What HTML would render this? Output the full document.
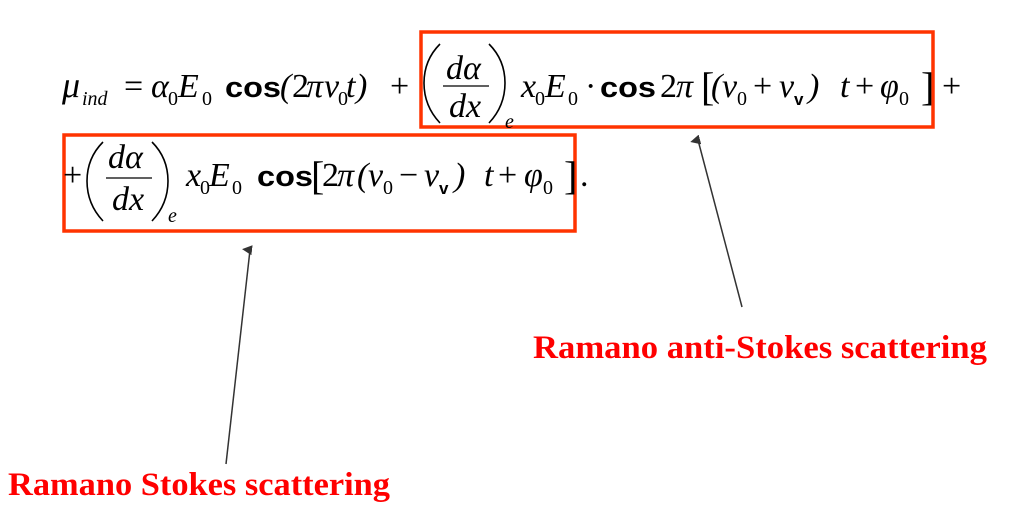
<!DOCTYPE html>
<html><head><meta charset="utf-8"><style>
html,body{margin:0;padding:0;background:#fff;}
svg{display:block;}
.v{font-family:"Liberation Serif",serif;font-style:italic;}
.n{font-family:"Liberation Serif",serif;}
.c{font-family:"Liberation Sans",sans-serif;font-weight:bold;}
.l{font-family:"Liberation Serif",serif;font-weight:bold;fill:#ff0000;}
</style></head><body>
<svg width="1035" height="528" viewBox="0 0 1035 528" xmlns="http://www.w3.org/2000/svg">
<defs><marker id="ah" markerWidth="10" markerHeight="10" refX="5" refY="8" orient="auto-start-reverse" markerUnits="userSpaceOnUse" viewBox="0 0 10 10"><path d="M0,10 L5,0 L10,10 Z" fill="#333"/></marker></defs>
<rect x="421" y="32" width="512" height="95" fill="none" stroke="#ff3300" stroke-width="3.5"/>
<rect x="64" y="135" width="511" height="96" fill="none" stroke="#ff3300" stroke-width="3.5"/>
<g fill="none" stroke="#000" stroke-width="1.6">
<path d="M440,44 Q424,60 424,83 Q424,106 440,123"/>
<path d="M489,44 Q505,60 505,83 Q505,106 489,123"/>
<path d="M103,142 Q87,158 87,181 Q87,204 103,221"/>
<path d="M152,142 Q168,158 168,181 Q168,204 152,221"/>
</g>
<g font-size="34" fill="#000">
<text x="62" y="97" class="v" font-size="36">μ</text>
<text x="82" y="105" class="v" font-size="20">ind</text>
<text x="124" y="97" class="n">=</text>
<text x="151" y="97" class="v">α</text><text x="168" y="105" class="n" font-size="20">0</text>
<text x="178" y="97" class="v">E</text><text x="202" y="105" class="n" font-size="20">0</text>
<text x="225" y="97" class="c" font-size="29" textLength="56" lengthAdjust="spacingAndGlyphs">cos</text>
<text x="280" y="97" class="v">(</text><text x="292" y="97" class="n">2</text><text x="306" y="97" class="v">π</text>
<text x="324" y="97" class="v">ν</text><text x="338" y="105" class="n" font-size="20">0</text>
<text x="346" y="97" class="v">t</text><text x="356" y="97" class="v">)</text>
<text x="390" y="97" class="n">+</text>
<text x="446" y="79" class="v">d</text><text x="463" y="79" class="v">α</text>
<line x1="443" y1="86" x2="489" y2="86" stroke="#000" stroke-width="1.3"/>
<text x="449" y="117" class="v">dx</text>
<text x="505" y="128" class="v" font-size="20">e</text>
<text x="521" y="97" class="v">x</text><text x="535" y="105" class="n" font-size="20">0</text>
<text x="545" y="97" class="v">E</text><text x="568" y="105" class="n" font-size="20">0</text>
<text x="585" y="97" class="n">·</text>
<text x="600" y="97" class="c" font-size="29" textLength="56" lengthAdjust="spacingAndGlyphs">cos</text>
<text x="660" y="97" class="n">2</text><text x="676" y="97" class="v">π</text>
<text x="701" y="100" class="n" font-size="40">[</text>
<text x="711" y="97" class="v">(</text>
<text x="722" y="97" class="v">ν</text><text x="737" y="105" class="n" font-size="20">0</text>
<text x="753" y="97" class="n">+</text>
<text x="779" y="97" class="v">ν</text><text x="794" y="105" class="c" font-size="17">v</text>
<text x="808" y="97" class="v">)</text>
<text x="840" y="97" class="v">t</text>
<text x="855" y="97" class="n">+</text>
<text x="880" y="97" class="v">φ</text><text x="899" y="105" class="n" font-size="20">0</text>
<text x="921" y="100" class="n" font-size="40">]</text>
<text x="942" y="97" class="n">+</text>
</g>
<g font-size="34" fill="#000">
<text x="63" y="186" class="n">+</text>
<text x="108" y="168" class="v">d</text><text x="125" y="168" class="v">α</text>
<line x1="106" y1="178" x2="152" y2="178" stroke="#000" stroke-width="1.3"/>
<text x="112" y="210" class="v">dx</text>
<text x="168" y="222" class="v" font-size="20">e</text>
<text x="186" y="186" class="v">x</text><text x="200" y="194" class="n" font-size="20">0</text>
<text x="209" y="186" class="v">E</text><text x="232" y="194" class="n" font-size="20">0</text>
<text x="257" y="186" class="c" font-size="29" textLength="56" lengthAdjust="spacingAndGlyphs">cos</text>
<text x="311" y="189" class="n" font-size="40">[</text>
<text x="322" y="186" class="n">2</text><text x="337" y="186" class="v">π</text>
<text x="357" y="186" class="v">(</text>
<text x="368" y="186" class="v">ν</text><text x="383" y="194" class="n" font-size="20">0</text>
<text x="399" y="186" class="n">−</text>
<text x="424" y="186" class="v">ν</text><text x="439" y="194" class="c" font-size="17">v</text>
<text x="454" y="186" class="v">)</text>
<text x="484" y="186" class="v">t</text>
<text x="498" y="186" class="n">+</text>
<text x="524" y="186" class="v">φ</text><text x="543" y="194" class="n" font-size="20">0</text>
<text x="564" y="189" class="n" font-size="40">]</text>
<text x="580" y="186" class="n">.</text>
</g>
<line x1="742" y1="307" x2="698" y2="140" stroke="#333" stroke-width="1.5" marker-end="url(#ah)"/>
<line x1="226" y1="464" x2="250" y2="250" stroke="#333" stroke-width="1.5" marker-end="url(#ah)"/>
<text x="533" y="358" class="l" font-size="33" textLength="454" lengthAdjust="spacingAndGlyphs">Ramano anti-Stokes scattering</text>
<text x="8" y="495" class="l" font-size="33" textLength="382" lengthAdjust="spacingAndGlyphs">Ramano Stokes scattering</text>
</svg>
</body></html>
